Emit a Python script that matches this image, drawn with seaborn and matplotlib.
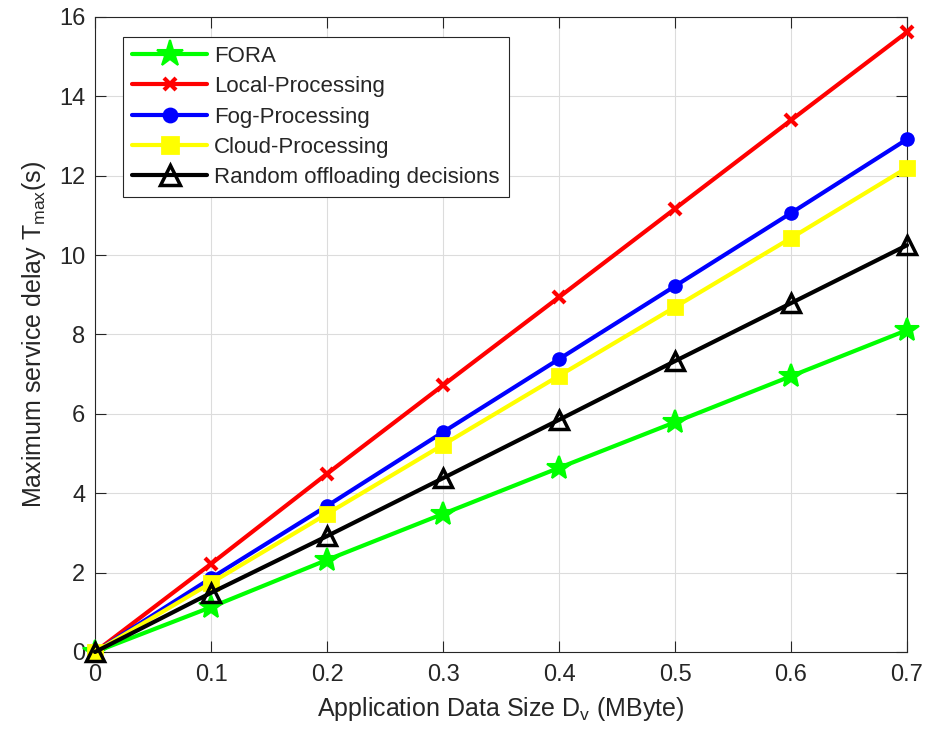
import matplotlib
matplotlib.use("Agg")
import matplotlib.pyplot as plt
import seaborn as sns

# values
data_size = [0, 0.1, 0.2, 0.3, 0.4, 0.5, 0.6, 0.7]
fora = [0, 1.13, 2.32, 3.48, 4.64, 5.79, 6.95, 8.11]
local_proc = [0, 2.22, 4.49, 6.72, 8.94, 11.17, 13.40, 15.62]
fog_proc = [0, 1.86, 3.68, 5.54, 7.38, 9.22, 11.06, 12.92]
cloud_proc = [0, 1.74, 3.48, 5.22, 6.96, 8.69, 10.43, 12.20]
random_off = [0, 1.49, 2.92, 4.38, 5.85, 7.33, 8.79, 10.25]

series_names = ["FORA", "Local-Processing", "Fog-Processing",
                "Cloud-Processing", "Random offloading decisions"]
series_vals = [fora, local_proc, fog_proc, cloud_proc, random_off]

sns.set_style("whitegrid")
plt.rcParams["font.family"] = ["Liberation Sans", "DejaVu Sans"]
plt.rcParams["mathtext.default"] = "regular"

fig = plt.figure(figsize=(9.26, 7.42), dpi=100)
ax = fig.add_axes([0.1026, 0.1213, 0.8769, 0.8558])

# style per series: colour, marker, size, face
styles = [
    ("#00ff00", "*", 18, "#00ff00", 1.5),
    ("#ff0000", "x", 8, "#ff0000", 3.0),
    ("#0000ff", "o", 9, "#0000ff", 1.5),
    ("#ffff00", "s", 10, "#ffff00", 2.0),
    ("#000000", "^", 13, "none", 2.5),
]

for name, vals, (col, mk, ms, mfc, mew) in zip(series_names, series_vals, styles):
    sns.lineplot(x=data_size, y=vals, ax=ax, color=col, marker=mk,
                 markersize=ms, markerfacecolor=mfc, markeredgecolor=col,
                 markeredgewidth=mew, linewidth=3, label=name, clip_on=False, zorder=3)

ax.set_xlim(0, 0.7)
ax.set_ylim(0, 16)
ax.set_xticks([0, 0.1, 0.2, 0.3, 0.4, 0.5, 0.6, 0.7])
ax.set_xticklabels(["0", "0.1", "0.2", "0.3", "0.4", "0.5", "0.6", "0.7"])
ax.set_yticks(range(0, 17, 2))
ax.tick_params(direction="in", length=8, width=0.8, labelsize=17, colors="#262626",
               top=True, right=True, bottom=True, left=True)
ax.tick_params(axis="x", pad=9)
ax.tick_params(axis="y", pad=7)
ax.grid(True, color="#dcdcdc", linewidth=0.8)
for sp in ax.spines.values():
    sp.set_color("#262626")
    sp.set_linewidth(0.8)

ax.set_xlabel("Application Data Size D$_v$ (MByte)", fontsize=18, color="#262626", labelpad=6)
ax.set_ylabel("Maximum service delay T$_{max}$(s)", fontsize=18, color="#262626", labelpad=8)

leg = ax.legend(loc="upper left", bbox_to_anchor=(0.0345, 0.9685), fontsize=16,
                handlelength=3.4, frameon=True, fancybox=False, framealpha=1,
                edgecolor="#262626", borderpad=0.4, labelspacing=0.42,
                handletextpad=0.3, markerscale=1.1, borderaxespad=0)
leg.get_frame().set_linewidth(0.8)

fig.savefig("out.png", dpi=100)
